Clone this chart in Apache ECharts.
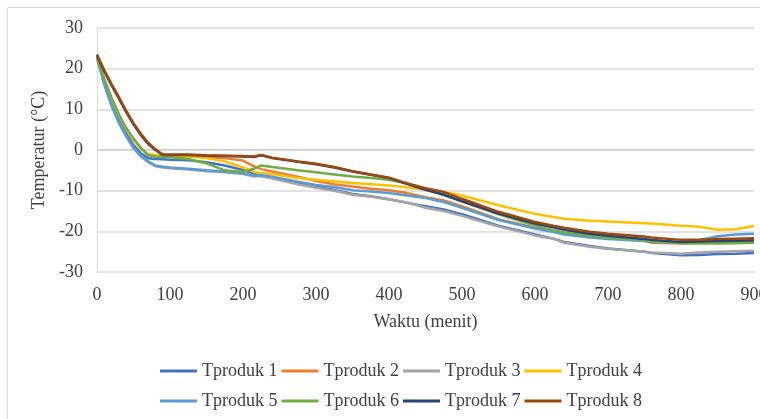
<!DOCTYPE html>
<html>
<head>
<meta charset="utf-8">
<script src="https://cdn.jsdelivr.net/npm/echarts@6/dist/echarts.min.js"></script>
<style>
  html, body { margin: 0; padding: 0; background: #fff; }
  #main { width: 760px; height: 419px; }
</style>
</head>
<body>
<div id="main"></div>
<script>
// time in minutes
const waktu = [0, 10, 20, 30, 40, 50, 60, 70, 80, 90, 100, 125, 150, 175, 200, 215, 225, 240, 275, 300,
  325, 350, 375, 400, 425, 450, 475, 500, 550, 600, 625, 640, 675, 700, 750, 760, 800, 825, 850, 875, 900];

const names = ['Tproduk 1', 'Tproduk 2', 'Tproduk 3', 'Tproduk 4', 'Tproduk 5', 'Tproduk 6', 'Tproduk 7', 'Tproduk 8'];
const colors = ['#4472C4', '#ED7D31', '#A5A5A5', '#FFC000', '#5B9BD5', '#70AD47', '#264478', '#9E480E'];

const tproduk1 = [22.8, 16.6, 11.6, 7.4, 4.0, 1.2, -0.8, -2.0, -2.2, -2.3, -2.4, -2.5, -3.0, -3.8, -4.9, -5.8, -6.4, -6.8, -8.1, -8.9,
  -9.8, -10.8, -11.4, -12.1, -13.0, -13.8, -14.6, -15.8, -18.6, -20.8, -21.8, -22.6, -23.6, -24.2, -25.0, -25.3, -25.9, -25.8, -25.6, -25.5, -25.3];
const tproduk2 = [22.8, 17.2, 12.6, 8.6, 5.2, 2.6, 0.4, -1.2, -1.5, -1.5, -1.5, -1.6, -1.7, -2.0, -2.6, -4.0, -4.7, -5.3, -6.6, -7.6,
  -8.4, -9.0, -9.5, -9.9, -10.6, -11.6, -12.4, -13.8, -17.0, -19.1, -20.0, -20.6, -21.2, -21.6, -22.3, -22.8, -23.0, -22.8, -22.6, -22.4, -22.3];
const tproduk3 = [22.6, 16.0, 10.8, 6.6, 3.3, 0.4, -1.6, -3.0, -4.0, -4.3, -4.5, -4.8, -5.2, -5.5, -5.9, -6.5, -6.4, -7.0, -8.4, -9.3,
  -10.0, -11.0, -11.5, -12.1, -12.9, -14.2, -15.0, -16.2, -18.8, -21.0, -21.8, -22.8, -23.8, -24.3, -25.0, -25.2, -25.5, -25.2, -25.0, -24.9, -24.8];
const tproduk4 = [22.8, 17.2, 12.6, 8.6, 5.2, 2.6, 0.4, -1.0, -1.2, -1.3, -1.4, -1.6, -2.0, -2.8, -4.3, -5.4, -5.7, -5.9, -6.9, -7.3,
  -7.7, -8.1, -8.4, -8.7, -9.2, -9.7, -10.3, -11.2, -13.6, -15.7, -16.5, -16.9, -17.4, -17.6, -18.0, -18.1, -18.6, -18.9, -19.6, -19.5, -18.7];
const tproduk5 = [22.8, 16.2, 11.0, 6.8, 3.5, 0.6, -1.4, -2.8, -3.8, -4.1, -4.3, -4.6, -5.0, -5.3, -5.7, -6.3, -6.2, -6.6, -7.8, -8.6,
  -9.1, -9.9, -10.2, -10.6, -11.2, -11.8, -12.8, -14.2, -17.2, -19.3, -20.2, -20.8, -21.5, -21.9, -22.4, -22.6, -22.8, -22.2, -21.2, -20.8, -20.6];
const tproduk6 = [22.8, 17.4, 12.8, 8.8, 5.4, 2.8, 0.6, -1.3, -1.6, -1.7, -1.8, -2.2, -3.3, -5.0, -5.4, -4.6, -3.8, -4.2, -5.0, -5.5,
  -6.0, -6.5, -6.9, -7.3, -8.2, -9.6, -11.0, -12.6, -15.8, -18.6, -19.7, -20.3, -21.1, -21.6, -22.2, -22.5, -22.9, -23.0, -23.0, -22.9, -22.8];
const tproduk7 = [23.3, 19.3, 15.9, 12.7, 9.3, 6.3, 3.7, 1.5, 0.0, -1.2, -1.2, -1.2, -1.4, -1.5, -1.6, -1.7, -1.3, -2.0, -2.9, -3.5,
  -4.3, -5.3, -6.1, -6.9, -8.4, -9.8, -11.0, -12.6, -15.6, -18.1, -19.0, -19.6, -20.6, -21.1, -21.9, -22.1, -22.6, -22.5, -22.4, -22.3, -22.2];
const tproduk8 = [23.5, 19.6, 16.2, 13.0, 9.6, 6.6, 4.0, 1.8, 0.2, -1.1, -1.1, -1.1, -1.3, -1.4, -1.5, -1.6, -1.2, -1.9, -2.8, -3.4,
  -4.2, -5.2, -6.0, -6.8, -8.2, -9.4, -10.3, -12.0, -15.2, -17.7, -18.6, -19.1, -20.1, -20.6, -21.3, -21.5, -22.1, -22.1, -21.9, -21.8, -21.7];

const allSeries = [tproduk1, tproduk2, tproduk3, tproduk4, tproduk5, tproduk6, tproduk7, tproduk8];

const font = 'Liberation Serif';
const textColor = '#404040';

const chart = echarts.init(document.getElementById('main'));

const legendBase = {
  left: 160,
  padding: 0,
  icon: 'rect',
  itemWidth: 37, itemHeight: 3, itemGap: 4,
  textStyle: { fontFamily: font, fontSize: 18, color: textColor }
};

const option = {
  animation: false,
  color: colors,
  textStyle: { fontFamily: font },
  grid: { left: 97, right: 6, top: 28, bottom: 147, outerBoundsMode: 'none' },
  graphic: [{
    type: 'rect',
    shape: { x: 7.5, y: 7.5, width: 800, height: 500 },
    style: { fill: 'none', stroke: '#d9d9d9', lineWidth: 1 },
    silent: true
  }],
  legend: [
    Object.assign({ data: names.slice(0, 4), top: 362 }, legendBase),
    Object.assign({ data: names.slice(4), top: 392 }, legendBase)
  ],
  xAxis: {
    type: 'value',
    min: 0, max: 900, interval: 100,
    name: 'Waktu (menit)',
    nameLocation: 'middle',
    nameGap: 41,
    nameTextStyle: { fontFamily: font, fontSize: 18, color: textColor },
    axisLine: { show: true, lineStyle: { color: '#d9d9d9' } },
    axisTick: { show: false },
    axisLabel: { fontFamily: font, fontSize: 18, color: textColor, margin: 14 },
    splitLine: { show: false }
  },
  yAxis: {
    type: 'value',
    min: -30, max: 30, interval: 10,
    name: 'Temperatur (°C)',
    nameLocation: 'middle',
    nameGap: 48,
    nameTextStyle: { fontFamily: font, fontSize: 18, color: textColor },
    axisLine: { show: true, lineStyle: { color: '#d9d9d9' } },
    axisTick: { show: false },
    axisLabel: { fontFamily: font, fontSize: 18, color: textColor, margin: 14 },
    splitLine: {
      show: true,
      lineStyle: { color: ['#d9d9d9', '#d9d9d9', '#d9d9d9', '#bfbfbf', '#d9d9d9', '#d9d9d9', '#d9d9d9'], width: 1.5 }
    }
  },
  series: allSeries.map((vals, i) => ({
    name: names[i],
    type: 'line',
    symbol: 'none',
    data: waktu.map((t, j) => [t, vals[j]]),
    lineStyle: { width: 2.5, color: colors[i] },
    itemStyle: { color: colors[i] }
  }))
};

chart.setOption(option);
</script>
</body>
</html>
